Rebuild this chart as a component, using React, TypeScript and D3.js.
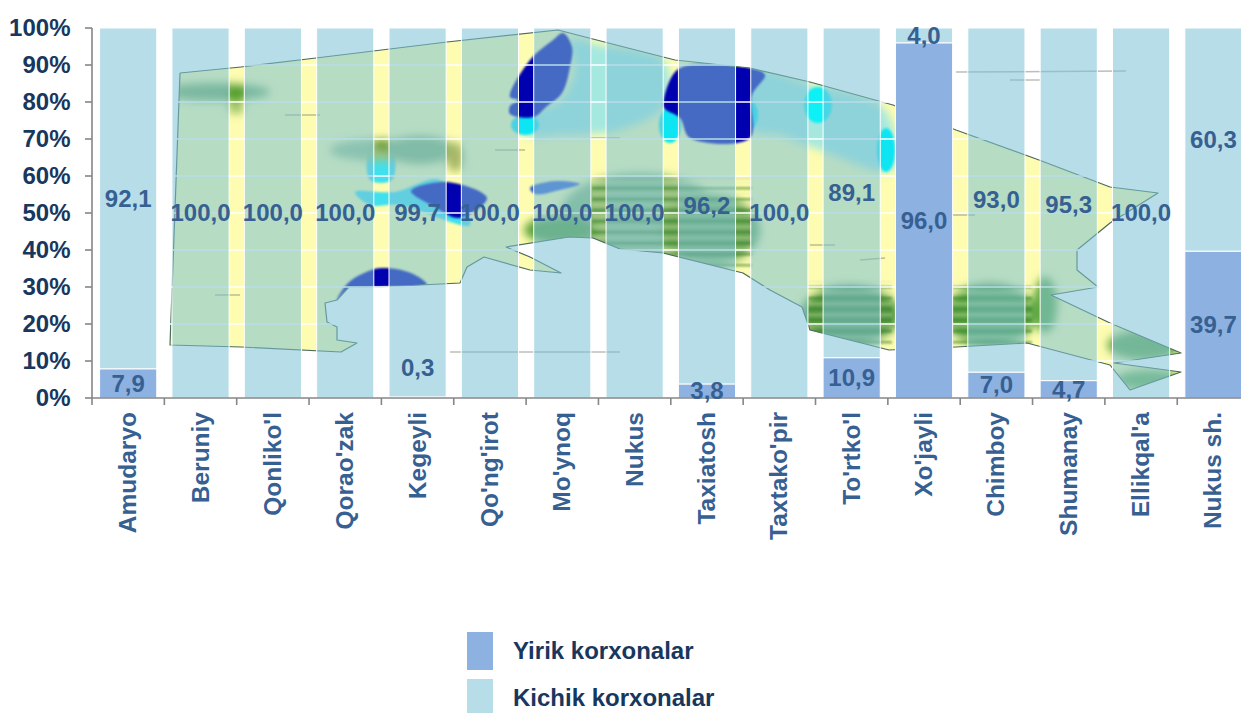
import React from "react";
import * as d3 from "d3";

const districts = ["Amudaryo","Beruniy","Qonliko'l","Qorao'zak","Kegeyli","Qo'ng'irot","Mo'ynoq","Nukus","Taxiatosh","Taxtako'pir","To'rtko'l","Xo'jayli","Chimboy","Shumanay","Ellikqal'a","Nukus sh."];
const yirik = [7.9,0,0,0,0.3,0,0,0,3.8,0,10.9,96.0,7.0,4.7,0,39.7];
const kichik = [92.1,100,100,100,99.7,100,100,100,96.2,100,89.1,4.0,93.0,95.3,100,60.3];
const yTicks = d3.range(0, 101, 10);
const legendLabels = ["Yirik korxonalar","Kichik korxonalar"];

// Backdrop map (an image in the reference), traced in page pixels
const landOutline: [number,number][] = [[180,73],[241,67],[316,58],[447,42],[558,30],[620,46],[675,60],[750,68],[810,82],[893,105],[956,130],[1039,160],[1110,187],[1158,193],[1110,223],[1077,250],[1077,270],[1098,287],[1051,295],[1110,323],[1181,353],[1114,363],[1181,372],[1130,390],[1110,365],[1027,343],[956,347],[889,350],[810,330],[802,307],[770,290],[743,273],[663,253],[620,249],[593,238],[569,237],[506,247],[530,257],[561,273],[530,270],[484,257],[467,267],[460,283],[381,287],[349,287],[337,300],[325,303],[327,322],[337,327],[337,340],[357,343],[341,352],[241,347],[170,345],[180,73]];
const darkBlue: [number,number][][] = [
  [[510,97],[530,60],[553,40],[563,33],[572,47],[570,67],[562,93],[546,107],[534,117],[510,114],[510,106],[518,100]],
  [[664,98],[675,72],[690,65],[750,68],[765,75],[752,95],[750,138],[690,138],[680,118],[664,108]],
  [[337,300],[348,283],[364,273],[381,268],[411,273],[427,285],[381,287],[349,290]],
  [[411,191],[447,182],[487,198],[459,218],[435,207]],
  [[530,188],[555,181],[580,184],[560,190],[535,194]],
];
const cyan: [number,number][][] = [
  [[570,40],[600,45],[665,62],[665,105],[620,130],[560,135],[525,135],[520,118],[560,100],[575,70]],
  [[750,72],[810,84],[885,110],[893,170],[820,150],[780,135],[752,130]],
  [[370,150],[392,150],[392,180],[370,180]],
  [[355,192],[395,192],[440,180],[470,225],[400,205],[370,205]],
];
const softPatches: [number,number,number,number,string][] = [
  [215,92,55,9,"#79ad62"],[236,94,9,8,"#4f9f22"],[236,108,9,6,"#9ec46a"],
  [380,150,50,11,"#9cc486"],[382,145,8,6,"#6b9a28"],[420,150,34,14,"#86b56f"],[455,157,9,15,"#a7b868"],
  [640,215,80,42,"#8dbb78"],[710,230,50,36,"#6fa95c"],[560,230,36,14,"#5aa03a"],
  [850,315,50,30,"#5a9c4a"],[990,315,46,32,"#5fa64a"],[1145,345,38,15,"#6bab4f"],[1150,380,35,10,"#71b356"],
  [1045,305,12,28,"#62aa42"],
];
const hairlines: [number,number,number,number][] = [[956,72,1126,71],[1010,80,1040,80],[590,138,620,138],[215,295,240,295],[285,115,320,115],[495,150,525,150],[810,245,835,245],[950,215,975,215],[450,352,620,352],[860,260,885,258]];

const W = 1241, H = 713;
const m = { left: 92, top: 28, bottom: 398 };
const step = 72.35;
const x = d3.scaleBand<string>().domain(districts).range([m.left, m.left + step * districts.length]).paddingInner(0.21).paddingOuter(0.105);
const y = d3.scaleLinear().domain([0, 100]).range([m.bottom, m.top]);
const ticksX = d3.range(0, districts.length + 1).map(i => m.left + step * i);
const poly = d3.line<[number,number]>().curve(d3.curveCatmullRomClosed.alpha(0.5));
const outline = d3.line<[number,number]>();

const valueFont = { fontFamily: "'Liberation Sans', Arial, sans-serif", fontWeight: 700 } as const;
const labelOffset: Record<string, number> = { "Kegeyli": -30 };

export default function App() {
  return (
    <svg width={W} height={H} style={{ position: "fixed", left: 0, top: 0, background: "#fff" }}>
      <defs>
        <clipPath id="land"><path d={outline(landOutline)!} /></clipPath>
        <filter id="soft" x="-30%" y="-30%" width="160%" height="160%"><feGaussianBlur stdDeviation="4" /></filter>
        <filter id="softer" x="-30%" y="-30%" width="160%" height="160%"><feGaussianBlur stdDeviation="1.2" /></filter>
        <pattern id="stripes" width="8" height="11" patternUnits="userSpaceOnUse">
          <rect y="0" width="8" height="2.5" fill="#2f7a1f" opacity="0.55" />
          <rect y="6" width="8" height="1.5" fill="#e3eaa5" opacity="0.45" />
        </pattern>
      </defs>
      <g clipPath="url(#land)">
        <path d={outline(landOutline)!} fill="#fdfcb0" />
        <g filter="url(#soft)">
          {cyan.slice(0, 2).map((p, i) => <path key={i} d={poly(p)!} fill="#a5e8e0" />)}
        </g>
        <g filter="url(#softer)">
          {cyan.map((p, i) => i >= 2 ? <path key={i} d={poly(p)!} fill="#3fe0ee" /> : null)}
          <ellipse cx={525} cy={125} rx={14} ry={10} fill="#10e6f2" />
          <ellipse cx={670} cy={125} rx={11} ry={18} fill="#10e6f2" />
          <ellipse cx={750} cy={115} rx={8} ry={14} fill="#10e6f2" />
          <ellipse cx={818} cy={105} rx={14} ry={18} fill="#10f0f5" />
          <ellipse cx={886} cy={150} rx={9} ry={22} fill="#10e6f2" />
        </g>
        <g filter="url(#soft)">
          {softPatches.map(([cx, cy, rx, ry, c], i) => <ellipse key={i} cx={cx} cy={cy} rx={rx} ry={ry} fill={c} />)}
        </g>
        <g filter="url(#softer)">
          <rect x={592} y={178} width={160} height={90} fill="url(#stripes)" />
          <rect x={808} y={278} width={84} height={68} fill="url(#stripes)" />
          <rect x={952} y={282} width={80} height={62} fill="url(#stripes)" />
          {darkBlue.map((p, i) => <path key={i} d={poly(p)!} fill={i === 4 ? "#3b5fd0" : "#0000b0"} />)}
        </g>
      </g>
      <path d={outline(landOutline)!} fill="none" stroke="#4a6a5a" strokeWidth={1.2} strokeLinejoin="round" />
      {hairlines.map(([a, b, c, d], i) => <line key={i} x1={a} y1={b} x2={c} y2={d} stroke="#7a7f70" strokeWidth={1.5} opacity={0.5} />)}

      {yTicks.map(t => <line key={t} x1={m.left} x2={W} y1={y(t)} y2={y(t)} stroke="#fff" strokeWidth={1.6} />)}

      {districts.map((d, i) => (
        <g key={d}>
          {yirik[i] > 0 && <rect x={x(d)!} width={x.bandwidth()} y={y(yirik[i])} height={y(0) - y(yirik[i])} fill="#8db1e1" stroke="#fff" strokeWidth={1} />}
          <rect x={x(d)!} width={x.bandwidth()} y={y(100)} height={y(yirik[i]) - y(100)} fill="#7cc1d5" fillOpacity={0.55} stroke="#fff" strokeWidth={1} />
        </g>
      ))}

      <line x1={m.left} x2={m.left} y1={y(100)} y2={y(0)} stroke="#868686" strokeWidth={1.6} />
      <line x1={m.left} x2={W} y1={y(0)} y2={y(0)} stroke="#868686" strokeWidth={1.6} />
      {yTicks.map(t => <line key={t} x1={m.left - 7} x2={m.left} y1={y(t)} y2={y(t)} stroke="#868686" strokeWidth={1.6} />)}
      {ticksX.map(t => <line key={t} x1={t} x2={t} y1={y(0)} y2={y(0) + 7} stroke="#868686" strokeWidth={1.6} />)}

      {yTicks.map(t => (
        <text key={t} x={70.5} y={y(t)} dy="0.35em" textAnchor="end" fontSize={24} fill="#17375e" {...valueFont}>{t}%</text>
      ))}

      {districts.map((d, i) => {
        const cx = x(d)! + x.bandwidth() / 2;
        const yMid = (y(0) + y(yirik[i])) / 2 + (labelOffset[d] ?? 0);
        const kMid = (y(yirik[i]) + y(100)) / 2;
        return (
          <g key={d} fill="#376092" fontSize={24} textAnchor="middle" {...valueFont}>
            {yirik[i] > 0 && <text x={cx} y={yMid} dy="0.35em">{yirik[i].toFixed(1).replace(".", ",")}</text>}
            <text x={cx} y={kMid} dy="0.35em">{kichik[i].toFixed(1).replace(".", ",")}</text>
            <text transform={`translate(${cx + 8},412) rotate(-90)`} textAnchor="end" fontSize={24.5}>{d}</text>
          </g>
        );
      })}

      {legendLabels.map((l, i) => (
        <g key={l}>
          <rect x={467} y={632 + i * 47} width={26} height={38} fill={i === 0 ? "#8db1e1" : "#b7dde8"} />
          <text x={513} y={651 + i * 47} dy="0.35em" fontSize={24} fill="#17375e" {...valueFont}>{l}</text>
        </g>
      ))}
    </svg>
  );
}
